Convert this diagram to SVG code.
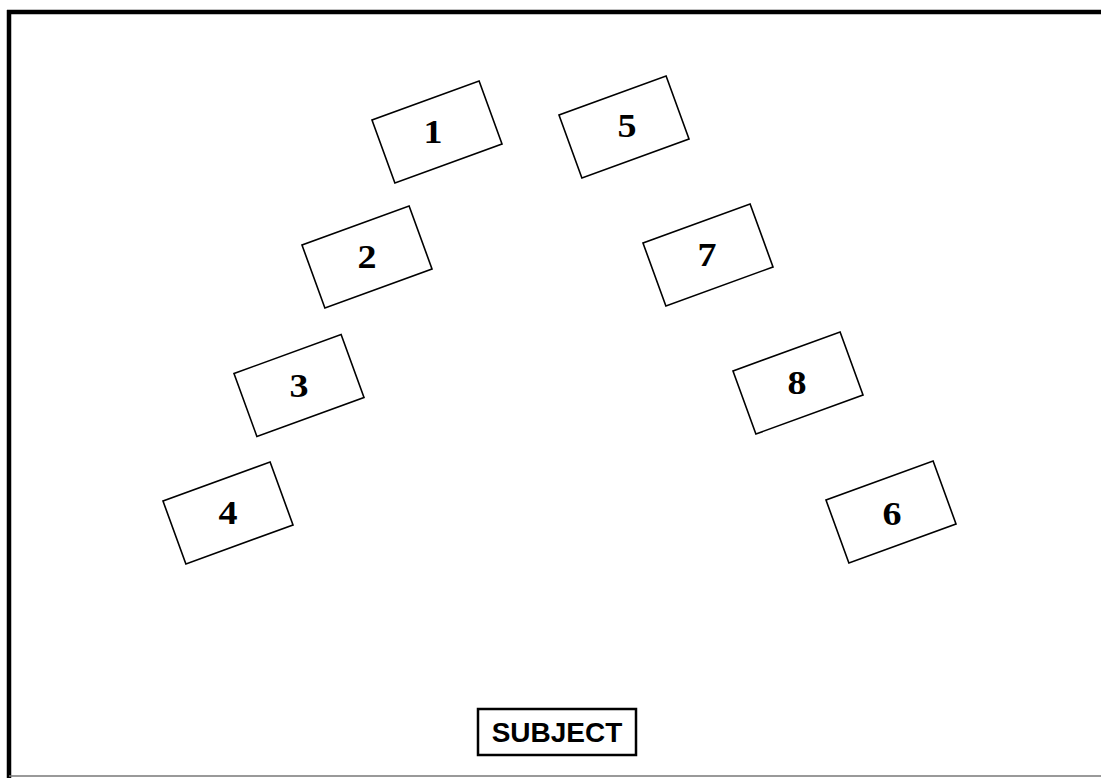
<svg xmlns="http://www.w3.org/2000/svg" width="1101" height="778" viewBox="0 0 1101 778">
<style>
.box rect{fill:#fff;stroke:#000;stroke-width:1.6}
.lbl{font-family:"Liberation Serif","Times New Roman",serif;font-weight:bold;font-size:34px;fill:#000;text-anchor:middle}
.subj{font-family:"Liberation Sans",Arial,sans-serif;font-weight:bold;font-size:28px;fill:#000;text-anchor:middle}
</style>
<rect x="0" y="0" width="1101" height="778" fill="#fff"/>
<g id="frame" fill="none">
<line x1="7" y1="12" x2="1101" y2="12" stroke="#000" stroke-width="4.5"/>
<line x1="9" y1="10" x2="9" y2="778" stroke="#000" stroke-width="4.5"/>
<line x1="9" y1="776" x2="1101" y2="776" stroke="#777" stroke-width="1.5"/>
</g>
<g id="connectors"></g>
<g id="node1" class="box"><rect x="-57" y="-33.5" width="114" height="67" transform="translate(437,132) rotate(-20)"/><text class="lbl" transform="translate(433,143) scale(1.12,1)">1</text></g>
<g id="node5" class="box"><rect x="-57" y="-33.5" width="114" height="67" transform="translate(624,127) rotate(-20)"/><text class="lbl" transform="translate(627,137) scale(1.12,1)">5</text></g>
<g id="node2" class="box"><rect x="-57" y="-33.5" width="114" height="67" transform="translate(367,257) rotate(-20)"/><text class="lbl" transform="translate(367,268) scale(1.12,1)">2</text></g>
<g id="node7" class="box"><rect x="-57" y="-33.5" width="114" height="67" transform="translate(708,255) rotate(-20)"/><text class="lbl" transform="translate(707,266) scale(1.12,1)">7</text></g>
<g id="node3" class="box"><rect x="-57" y="-33.5" width="114" height="67" transform="translate(299,385.5) rotate(-20)"/><text class="lbl" transform="translate(299,397) scale(1.12,1)">3</text></g>
<g id="node8" class="box"><rect x="-57" y="-33.5" width="114" height="67" transform="translate(798,383) rotate(-20)"/><text class="lbl" transform="translate(797,394) scale(1.12,1)">8</text></g>
<g id="node4" class="box"><rect x="-57" y="-33.5" width="114" height="67" transform="translate(228,513) rotate(-20)"/><text class="lbl" transform="translate(228,524) scale(1.12,1)">4</text></g>
<g id="node6" class="box"><rect x="-57" y="-33.5" width="114" height="67" transform="translate(891,512) rotate(-20)"/><text class="lbl" transform="translate(892,525) scale(1.12,1)">6</text></g>
<g id="subject"><rect x="478" y="709" width="158" height="46" fill="#fff" stroke="#000" stroke-width="2.5"/><text class="subj" x="557" y="742">SUBJECT</text></g>
</svg>
